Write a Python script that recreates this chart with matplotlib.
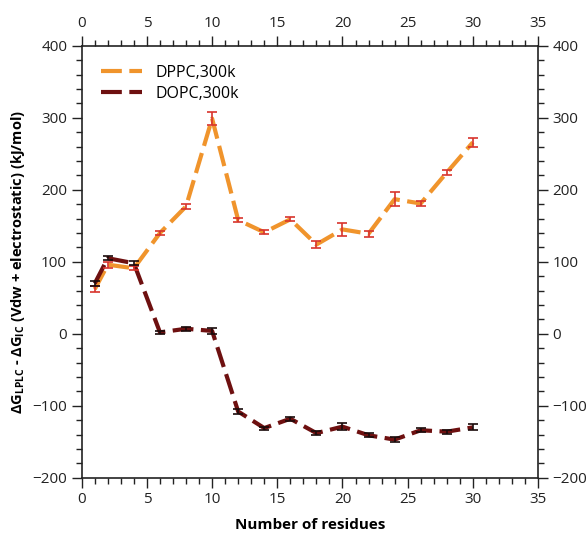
"""Free energy difference vs number of residues."""

import matplotlib

matplotlib.use('Agg')  # Non-interactive backend
import matplotlib.pyplot as plt
from matplotlib.ticker import MultipleLocator

plt.rcParams['font.family'] = ['Open Sans', 'DejaVu Sans']
plt.rcParams['mathtext.fontset'] = 'custom'
plt.rcParams['mathtext.rm'] = 'Open Sans'
plt.rcParams['mathtext.bf'] = 'Open Sans:bold'

# Data
residues = [1, 2, 4, 6, 8, 10, 12, 14, 16, 18, 20, 22, 24, 26, 28, 30]
dppc = [62, 96, 91, 140, 177, 299, 158, 141, 159, 124, 145, 139, 187, 181, 224, 266]
dppc_err = [4, 4, 3, 3, 4, 9, 3, 3, 3, 5, 9, 4, 10, 3, 4, 6]
dopc = [70, 105, 98, 2, 7, 4, -108, -131, -118, -138, -129, -141, -147, -134, -136, -130]
dopc_err = [4, 3, 3, 2, 3, 4, 3, 2, 3, 3, 5, 3, 3, 3, 3, 4]

dppc_color = '#f0942c'
dopc_color = '#6e1010'

fig = plt.figure(figsize=(5.88, 5.46), dpi=100)
ax = fig.add_axes([0.139, 0.125, 0.776, 0.791])

# lines (legend entries) and error bars drawn separately
ax.plot(residues, dppc, color=dppc_color, lw=3, dashes=(5, 1.8), label='DPPC,300k')
ax.plot(residues, dopc, color=dopc_color, lw=3, dashes=(5, 1.8), label='DOPC,300k')
ax.errorbar(residues, dppc, yerr=dppc_err, fmt='none', ecolor='#d8342c',
            elinewidth=1.2, capsize=3.5, capthick=1.2)
ax.errorbar(residues, dopc, yerr=dopc_err, fmt='none', ecolor='#1a0a0a',
            elinewidth=1.2, capsize=3.5, capthick=1.2)

ax.set_xlim(0, 35)
ax.set_ylim(-200, 400)
ax.xaxis.set_major_locator(MultipleLocator(5))
ax.xaxis.set_minor_locator(MultipleLocator(1))
ax.yaxis.set_major_locator(MultipleLocator(100))
ax.yaxis.set_minor_locator(MultipleLocator(20))

ax.tick_params(which='both', direction='out', top=True, right=True,
               labeltop=True, labelright=True, labelsize=11, colors='#222222')
ax.tick_params(which='major', length=7, width=1)
ax.tick_params(which='minor', length=4, width=1)
for s in ax.spines.values():
    s.set_linewidth(1.2)
    s.set_color('#222222')

ax.set_xlabel('Number of residues', fontsize=11, fontweight='bold', labelpad=8)
ax.set_ylabel(r'$\mathbf{\Delta G_{LPLC}}$ - $\mathbf{\Delta G_{IC}}$ (Vdw + electrostatic) (kJ/mol)',
              fontsize=10.5, fontweight='bold', labelpad=4)

ax.legend(loc='upper left', frameon=False, fontsize=11.5, handlelength=2.6,
          borderaxespad=0.8, labelspacing=0.3)

plt.savefig('out.png', dpi=100)
plt.close()
